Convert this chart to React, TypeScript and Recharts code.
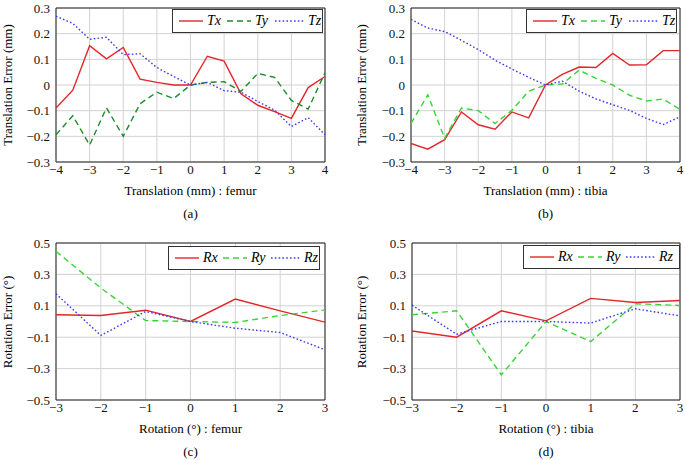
import React from "react";
import { CartesianGrid, Line, LineChart, ReferenceArea, XAxis, YAxis } from "recharts";

// translation sweep (mm) for panels (a) and (b)
const transSteps = [-4, -3.5, -3, -2.5, -2, -1.5, -1, -0.5, 0, 0.5, 1, 1.5, 2, 2.5, 3, 3.5, 4];
const transTicksX = [-4, -3, -2, -1, 0, 1, 2, 3, 4];
const transTicksY = [-0.3, -0.2, -0.1, 0, 0.1, 0.2, 0.3];

const femurTx = [-0.09, -0.02, 0.153, 0.102, 0.146, 0.023, 0.01, 0.0, 0, 0.112, 0.093, -0.034, -0.079, -0.104, -0.13, -0.01, 0.033];
const femurTy = [-0.194, -0.12, -0.234, -0.089, -0.2, -0.073, -0.028, -0.053, 0, 0.01, 0.013, -0.025, 0.045, 0.03, -0.06, -0.094, 0.048];
const femurTz = [0.268, 0.24, 0.178, 0.186, 0.118, 0.122, 0.068, 0.033, 0, 0.01, -0.022, -0.028, -0.064, -0.098, -0.162, -0.127, -0.194];

const tibiaTx = [-0.228, -0.25, -0.213, -0.105, -0.155, -0.172, -0.105, -0.128, 0, 0.041, 0.07, 0.068, 0.123, 0.078, 0.079, 0.134, 0.134];
const tibiaTy = [-0.15, -0.038, -0.208, -0.09, -0.1, -0.15, -0.099, -0.024, 0, 0.004, 0.058, 0.026, 0, -0.04, -0.062, -0.055, -0.095];
const tibiaTz = [0.256, 0.222, 0.208, 0.174, 0.138, 0.097, 0.062, 0.03, 0, 0.015, -0.024, -0.054, -0.077, -0.099, -0.13, -0.154, -0.124];

// rotation sweep (deg) for panels (c) and (d)
const rotSteps = [-3, -2, -1, 0, 1, 2, 3];
const rotTicksY = [-0.5, -0.3, -0.1, 0.1, 0.3, 0.5];

const femurRx = [0.043, 0.038, 0.072, 0, 0.143, 0.068, -0.004];
const femurRy = [0.447, 0.213, 0.006, 0, -0.006, 0.038, 0.074];
const femurRz = [0.177, -0.089, 0.064, 0, -0.043, -0.07, -0.18];

const tibiaRx = [-0.06, -0.1, 0.068, 0.004, 0.147, 0.121, 0.134];
const tibiaRy = [0.043, 0.068, -0.34, 0, -0.128, 0.113, 0.102];
const tibiaRz = [0.104, -0.081, 0, 0, -0.01, 0.081, 0.036];

const RED = "#e3262a";
const DARK_GREEN = "#1f8a2a";
const GREEN = "#3ad43a";
const BLUE = "#3b3bf0";
const SOLID = undefined;
const DASHED = "6 4";
const DOTTED = "1.6 2.2";
const FONT = "Liberation Serif, Times New Roman, serif";

type Series = { name: string; values: number[]; color: string; dash?: string };
type Box = { left: number; top: number; width: number; height: number };

const fmt = (v: number) => (v < 0 ? "\u2212" + String(Math.abs(v)) : String(v));

function LegendBox({ series, box }: { series: Series[]; box: Box }) {
  return (
    <div
      style={{
        position: "absolute",
        ...box,
        boxSizing: "border-box",
        border: "1px solid #333",
        background: "white",
        display: "flex",
        alignItems: "center",
        paddingLeft: 6,
        fontFamily: FONT,
        fontSize: 14,
        fontStyle: "italic",
      }}
    >
      {series.map((s, i) => (
        <div key={s.name} style={{ display: "flex", alignItems: "center", marginRight: 4 }}>
          <svg width={i === 2 ? 29 : 24} height={6} style={{ marginRight: 4 }}>
            <line x1={0} y1={3} x2={i === 2 ? 29 : 24} y2={3} stroke={s.color} strokeWidth={1.4} strokeDasharray={s.dash} />
          </svg>
          <span style={{ display: "inline-block", width: 16 }}>{s.name}</span>
        </div>
      ))}
    </div>
  );
}

function Panel({
  box,
  plot,
  xs,
  series,
  xTicks,
  yTicks,
  xLabel,
  yLabel,
  yLabelX,
  caption,
  legend,
}: {
  box: Box;
  plot: { left: number; right: number; top: number; bottom: number };
  xs: number[];
  series: Series[];
  xTicks: number[];
  yTicks: number[];
  xLabel: string;
  yLabel: string;
  yLabelX: number;
  caption: string;
  legend: Box;
}) {
  const data = xs.map((x, i) => {
    const row: Record<string, number> = { x };
    series.forEach((s) => (row[s.name] = s.values[i]));
    return row;
  });
  const xDomain = [xTicks[0], xTicks[xTicks.length - 1]];
  const yDomain = [yTicks[0], yTicks[yTicks.length - 1]];
  const xAxisH = 20;
  const margin = {
    top: plot.top - box.top,
    right: box.left + box.width - plot.right,
    left: 0,
    bottom: box.top + box.height - plot.bottom - xAxisH,
  };
  const cx = (plot.left + plot.right) / 2;
  const cy = (plot.top + plot.bottom) / 2;
  const tick = { fontSize: 13, fill: "#111", fontFamily: FONT };

  return (
    <>
      <div style={{ position: "absolute", left: box.left, top: box.top }}>
        <LineChart width={box.width} height={box.height} data={data} margin={margin}>
          <CartesianGrid stroke="#d2d2d2" horizontalValues={yTicks} verticalValues={xTicks} />
          <XAxis
            type="number"
            dataKey="x"
            domain={xDomain}
            ticks={xTicks}
            interval={0}
            height={xAxisH}
            tickFormatter={fmt}
            tick={tick}
            tickLine={false}
            axisLine={false}
            tickSize={2}
            tickMargin={1}
            allowDataOverflow
          />
          <YAxis
            type="number"
            domain={yDomain}
            ticks={yTicks}
            interval={0}
            width={plot.left - box.left}
            tickFormatter={fmt}
            tick={tick}
            tickLine={false}
            axisLine={false}
            tickSize={4}
            tickMargin={2}
            allowDataOverflow
          />
          <ReferenceArea
            x1={xDomain[0]}
            x2={xDomain[1]}
            y1={yDomain[0]}
            y2={yDomain[1]}
            fill="none"
            fillOpacity={0}
            stroke="#222"
            strokeWidth={1}
          />
          {series.map((s) => (
            <Line
              key={s.name}
              dataKey={s.name}
              type="linear"
              stroke={s.color}
              strokeWidth={1.4}
              strokeDasharray={s.dash}
              dot={false}
              isAnimationActive={false}
            />
          ))}
        </LineChart>
      </div>
      <LegendBox series={series} box={legend} />
      <div
        style={{
          position: "absolute",
          left: cx - 150,
          width: 300,
          top: plot.bottom + 21,
          textAlign: "center",
          fontFamily: FONT,
          fontSize: 13,
          lineHeight: "16px",
        }}
      >
        {xLabel}
      </div>
      <div
        style={{
          position: "absolute",
          left: cx - 50,
          width: 100,
          top: plot.bottom + 44,
          textAlign: "center",
          fontFamily: FONT,
          fontSize: 13,
          lineHeight: "16px",
        }}
      >
        {caption}
      </div>
      <div
        style={{
          position: "absolute",
          left: yLabelX - 80,
          top: cy - 7,
          width: 160,
          height: 14,
          textAlign: "center",
          transform: "rotate(-90deg)",
          fontFamily: FONT,
          fontSize: 13,
          lineHeight: "14px",
          whiteSpace: "nowrap",
        }}
      >
        {yLabel}
      </div>
    </>
  );
}

export default function App() {
  return (
    <div
      style={{
        position: "absolute",
        left: 0,
        top: 0,
        width: 685,
        height: 460,
        background: "white",
        overflow: "hidden",
        fontFamily: FONT,
      }}
    >
      <Panel
        box={{ left: 0, top: 0, width: 340, height: 230 }}
        plot={{ left: 56, right: 325, top: 8, bottom: 162 }}
        xs={transSteps}
        series={[
          { name: "Tx", values: femurTx, color: RED, dash: SOLID },
          { name: "Ty", values: femurTy, color: DARK_GREEN, dash: DASHED },
          { name: "Tz", values: femurTz, color: BLUE, dash: DOTTED },
        ]}
        xTicks={transTicksX}
        yTicks={transTicksY}
        xLabel="Translation (mm) : femur"
        yLabel="Translation Error (mm)"
        yLabelX={8}
        caption="(a)"
        legend={{ left: 172, top: 9, width: 151, height: 24 }}
      />
      <Panel
        box={{ left: 340, top: 0, width: 345, height: 230 }}
        plot={{ left: 411, right: 680, top: 8, bottom: 162 }}
        xs={transSteps}
        series={[
          { name: "Tx", values: tibiaTx, color: RED, dash: SOLID },
          { name: "Ty", values: tibiaTy, color: GREEN, dash: DASHED },
          { name: "Tz", values: tibiaTz, color: BLUE, dash: DOTTED },
        ]}
        xTicks={transTicksX}
        yTicks={transTicksY}
        xLabel="Translation (mm) : tibia"
        yLabel="Translation Error (mm)"
        yLabelX={362}
        caption="(b)"
        legend={{ left: 526, top: 9, width: 151, height: 24 }}
      />
      <Panel
        box={{ left: 0, top: 230, width: 340, height: 230 }}
        plot={{ left: 56, right: 325, top: 243, bottom: 400 }}
        xs={rotSteps}
        series={[
          { name: "Rx", values: femurRx, color: RED, dash: SOLID },
          { name: "Ry", values: femurRy, color: GREEN, dash: DASHED },
          { name: "Rz", values: femurRz, color: BLUE, dash: DOTTED },
        ]}
        xTicks={rotSteps}
        yTicks={rotTicksY}
        xLabel="Rotation (°) : femur"
        yLabel="Rotation Error (°)"
        yLabelX={8}
        caption="(c)"
        legend={{ left: 168, top: 246, width: 152, height: 24 }}
      />
      <Panel
        box={{ left: 340, top: 230, width: 345, height: 230 }}
        plot={{ left: 412, right: 680, top: 243, bottom: 400 }}
        xs={rotSteps}
        series={[
          { name: "Rx", values: tibiaRx, color: RED, dash: SOLID },
          { name: "Ry", values: tibiaRy, color: GREEN, dash: DASHED },
          { name: "Rz", values: tibiaRz, color: BLUE, dash: DOTTED },
        ]}
        xTicks={rotSteps}
        yTicks={rotTicksY}
        xLabel="Rotation (°) : tibia"
        yLabel="Rotation Error (°)"
        yLabelX={362}
        caption="(d)"
        legend={{ left: 523, top: 245, width: 157, height: 24 }}
      />
    </div>
  );
}
